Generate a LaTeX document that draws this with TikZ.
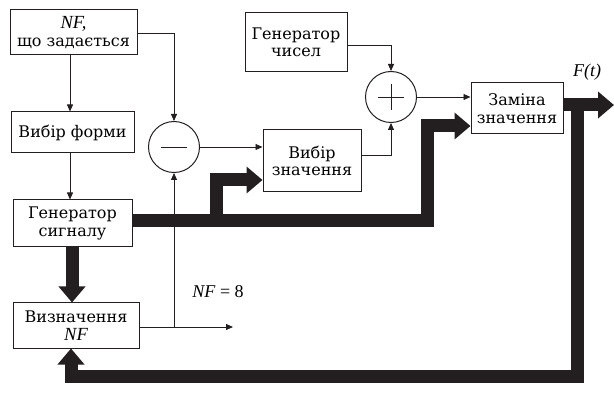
\documentclass[tikz,border=0pt]{standalone}
\usepackage{fontspec}
\setmainfont{DejaVu Serif}
\newfontfamily\mathlike{Liberation Serif}
\usetikzlibrary{arrows.meta}
\newcommand{\iv}[1]{{\mathlike\itshape\fontsize{18.5}{18}\selectfont #1}}
\definecolor{ink}{HTML}{231F20}
\tikzset{
  x=1pt,y=-1pt,
  box/.style={draw=ink, line width=1pt, inner sep=0pt, align=center, font=\fontsize{16}{17.5}\selectfont},
  sumc/.style={draw=ink, line width=1pt, circle, inner sep=0pt, minimum size=51pt},
  thin/.style={draw=ink, line width=0.8pt, -{Triangle[length=7pt,width=6pt]}},
  plainline/.style={draw=ink, line width=0.8pt},
  thick/.style={draw=ink, line width=13pt, line join=miter, -{Triangle[length=16pt,width=26pt]}},
}
\begin{document}
\begin{tikzpicture}
\useasboundingbox (0,0) rectangle (614,401);
% boxes
\node[box, minimum width=127pt, minimum height=45pt] (nf) at (73.5,32.5) {\iv{NF,}\\що задається};
\node[box, minimum width=123pt, minimum height=41pt] (form) at (72.5,132.5) {Вибір форми};
\node[box, minimum width=119pt, minimum height=47pt] (gs) at (72.5,223.5) {Генератор\\сигналу};
\node[box, minimum width=126pt, minimum height=45pt] (vz) at (76,325.5) {Визначення\\\iv{NF}};
\node[box, minimum width=98pt, minimum height=62pt] (vb) at (312,161) {Вибір\\значення};
\node[box, minimum width=102pt, minimum height=59pt] (gc) at (296,42.5) {Генератор\\чисел};
\node[box, minimum width=92pt, minimum height=51pt] (zm) at (517,108.5) {Заміна\\значення};
\node[sumc] (mn) at (174,147) {};
\node[sumc] (pl) at (391,97) {};
\draw[plainline] ([xshift=-13pt]mn.center) -- ([xshift=13pt]mn.center);
\draw[plainline] ([xshift=-13pt]pl.center) -- ([xshift=13pt]pl.center);
\draw[plainline] ([yshift=-13pt]pl.center) -- ([yshift=13pt]pl.center);
% coordinates
\coordinate (c1) at (174,33);
\coordinate (c2) at (174,327);
\coordinate (c3) at (233,327);
\coordinate (c4) at (391,45);
\coordinate (c5) at (391,155);
\coordinate (t1) at (216,221);
\coordinate (t2) at (216,180);
\coordinate (t3) at (427,221);
\coordinate (t4) at (427,126);
\coordinate (o1) at (577,105);
\coordinate (o2) at (614,105);
\coordinate (o3) at (577,376);
\coordinate (o4) at (71,376);
% thin connectors
\draw[thin] (nf.south -| 70,0) -- (form.north -| 70,0);
\draw[thin] (form.south -| 70,0) -- (gs.north -| 70,0);
\draw[thin] (nf.east |- c1) -- (c1) -- (mn.north);
\draw[thin] (mn.east) -- (mn.east -| vb.west);
\draw[thin] (vz.east |- c2) -- (c3);
\draw[thin] (c2) -- (mn.south);
\draw[thin] (gc.east |- c4) -- (c4) -- (pl.north);
\draw[thin] (vb.east |- c5) -- (c5) -- (pl.south);
\draw[thin] (pl.east) -- (pl.east -| zm.west);
% thick connectors
\draw[thick] (gs.east |- t1) -- (t3) -- (t4) -- (t4 -| zm.west);
\draw[thick] ([yshift=6.5pt]t1) -- (t2) -- (t2 -| vb.west);
\draw[thick] (gs.south -| 72,0) -- (vz.north -| 72,0);
\draw[thick] (zm.east |- o1) -- (o2);
\draw[thick] (o1) -- (o3) -- (o4) -- (vz.south -| o4);
% labels
\node[font=\mathlike\fontsize{18}{18}\selectfont] (lab) at (218,292) {\textit{NF} = 8};
\node[font=\mathlike\fontsize{18}{18}\selectfont] (ft) at (587,72) {\textit{F(t)}};
\end{tikzpicture}
\end{document}
